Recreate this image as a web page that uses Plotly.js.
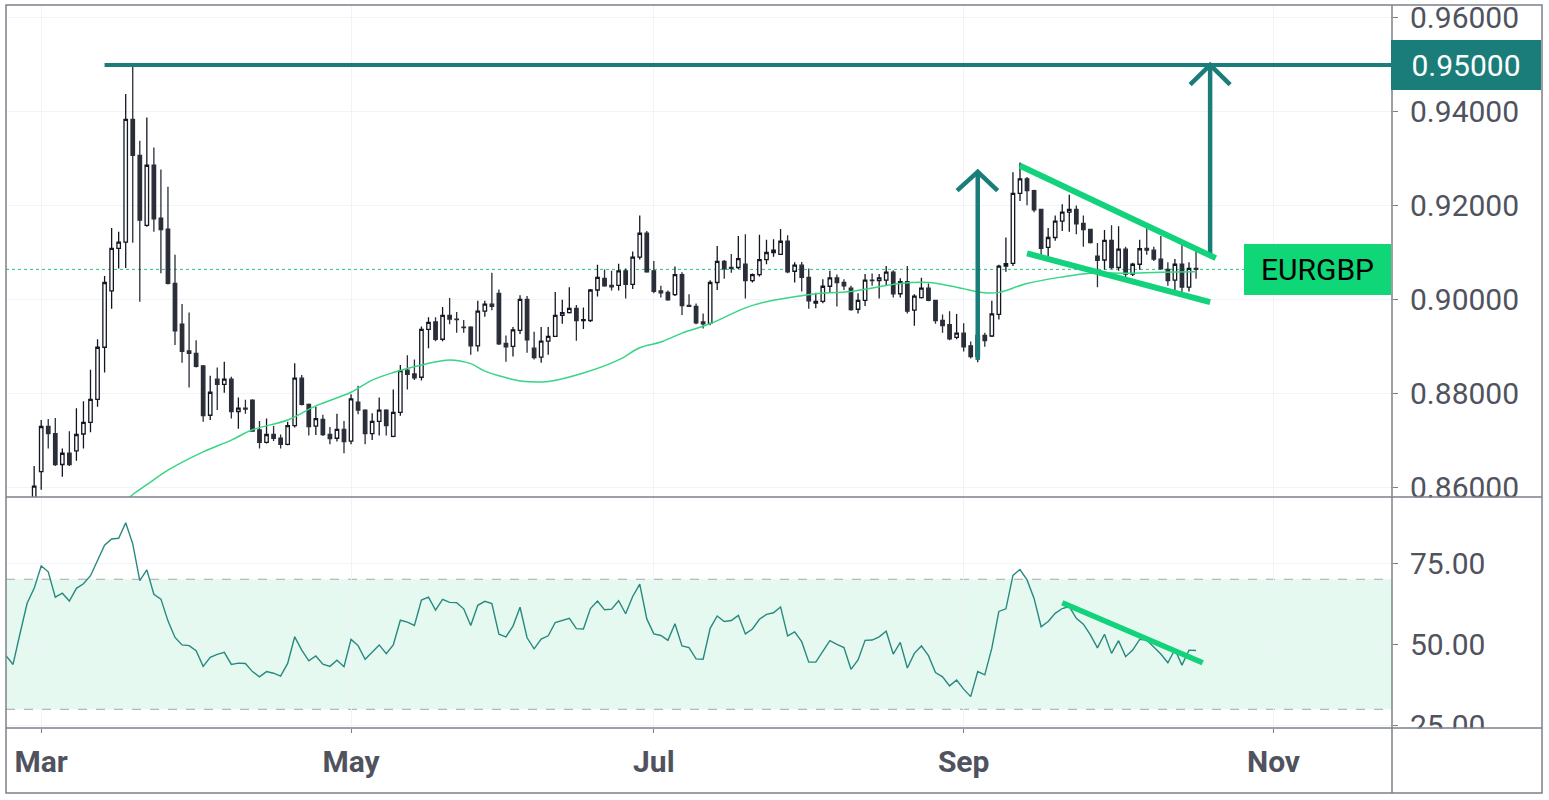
<!DOCTYPE html>
<html><head><meta charset="utf-8">
<script src="https://cdn.plot.ly/plotly-3.0.1.min.js"></script>
<style>html,body{margin:0;padding:0;background:#fff;}#chart{width:1549px;height:800px;}</style>
</head><body><div id="chart"></div>
<script>
// ---- daily candles EURGBP (2020) ----
const dates = ['2020-02-28',
'2020-03-02','2020-03-03','2020-03-04','2020-03-05','2020-03-06','2020-03-09','2020-03-10','2020-03-11','2020-03-12','2020-03-13','2020-03-16','2020-03-17','2020-03-18','2020-03-19','2020-03-20','2020-03-23','2020-03-24','2020-03-25','2020-03-26','2020-03-27','2020-03-30','2020-03-31',
'2020-04-01','2020-04-02','2020-04-03','2020-04-06','2020-04-07','2020-04-08','2020-04-09','2020-04-10','2020-04-13','2020-04-14','2020-04-15','2020-04-16','2020-04-17','2020-04-20','2020-04-21','2020-04-22','2020-04-23','2020-04-24','2020-04-27','2020-04-28','2020-04-29','2020-04-30',
'2020-05-01','2020-05-04','2020-05-05','2020-05-06','2020-05-07','2020-05-08','2020-05-11','2020-05-12','2020-05-13','2020-05-14','2020-05-15','2020-05-18','2020-05-19','2020-05-20','2020-05-21','2020-05-22','2020-05-25','2020-05-26','2020-05-27','2020-05-28','2020-05-29',
'2020-06-01','2020-06-02','2020-06-03','2020-06-04','2020-06-05','2020-06-08','2020-06-09','2020-06-10','2020-06-11','2020-06-12','2020-06-15','2020-06-16','2020-06-17','2020-06-18','2020-06-19','2020-06-22','2020-06-23','2020-06-24','2020-06-25','2020-06-26','2020-06-29','2020-06-30',
'2020-07-01','2020-07-02','2020-07-03','2020-07-06','2020-07-07','2020-07-08','2020-07-09','2020-07-10','2020-07-13','2020-07-14','2020-07-15','2020-07-16','2020-07-17','2020-07-20','2020-07-21','2020-07-22','2020-07-23','2020-07-24','2020-07-27','2020-07-28','2020-07-29','2020-07-30','2020-07-31',
'2020-08-03','2020-08-04','2020-08-05','2020-08-06','2020-08-07','2020-08-10','2020-08-11','2020-08-12','2020-08-13','2020-08-14','2020-08-17','2020-08-18','2020-08-19','2020-08-20','2020-08-21','2020-08-24','2020-08-25','2020-08-26','2020-08-27','2020-08-28','2020-08-31',
'2020-09-01','2020-09-02','2020-09-03','2020-09-04','2020-09-07','2020-09-08','2020-09-09','2020-09-10','2020-09-11','2020-09-14','2020-09-15','2020-09-16','2020-09-17','2020-09-18','2020-09-21','2020-09-22','2020-09-23','2020-09-24','2020-09-25','2020-09-28','2020-09-29','2020-09-30',
'2020-10-01','2020-10-02','2020-10-05','2020-10-06','2020-10-07','2020-10-08','2020-10-09','2020-10-12','2020-10-13','2020-10-14','2020-10-15','2020-10-16'];

const open = [0.8530,
0.8633,0.8729,0.8714,0.8648,0.8672,0.8677,0.8713,0.8738,0.8787,0.8898,0.9018,0.9109,0.9122,0.9384,0.9307,0.9158,0.9286,0.9173,0.9150,0.9034,0.8947,0.8890,
0.8885,0.8858,0.8753,0.8830,0.8819,0.8830,0.8761,0.8768,0.8785,0.8722,0.8695,0.8712,0.8704,0.8691,0.8731,0.8832,0.8776,0.8730,0.8744,0.8712,0.8704,0.8723,
0.8698,0.8781,0.8764,0.8714,0.8740,0.8764,0.8708,0.8759,0.8849,0.8841,0.8834,0.8936,0.8952,0.8915,0.8966,0.8958,0.8941,0.8941,0.8901,0.8975,0.8990,
0.9013,0.8906,0.8900,0.8934,0.9000,0.8896,0.8877,0.8911,0.8921,0.8966,0.8972,0.8981,0.8955,0.8955,0.9020,0.9045,0.9030,0.9030,0.9061,0.9032,0.9090,0.9141,
0.9061,0.9018,0.9015,0.9010,0.9053,0.8987,0.8985,0.8952,0.8949,0.9036,0.9081,0.9068,0.9068,0.9075,0.9040,0.9053,0.9085,0.9100,0.9096,0.9124,0.9060,0.9073,0.9047,
0.8992,0.8996,0.9028,0.9046,0.9036,0.9024,0.8979,0.8998,0.9041,0.9040,0.9041,0.9058,0.9012,0.9038,0.8977,0.9004,0.9024,0.8998,0.8955,0.8946,0.8919,
0.8928,0.8901,0.8878,0.8923,0.8922,0.8968,0.9071,0.9077,0.9226,0.9257,0.9232,0.9192,0.9111,0.9132,0.9167,0.9186,0.9192,0.9162,0.9149,0.9092,0.9084,0.9126,
0.9068,0.9107,0.9054,0.9075,0.9109,0.9105,0.9086,0.9064,0.9041,0.9075,0.9026,0.9066];

const high = [0.8645,
0.8743,0.8745,0.8747,0.8682,0.8719,0.8768,0.8783,0.8850,0.8915,0.9050,0.9152,0.9144,0.9438,0.9500,0.9338,0.9388,0.9324,0.9277,0.9240,0.9095,0.8990,0.8972,
0.8913,0.8860,0.8837,0.8855,0.8867,0.8835,0.8791,0.8786,0.8787,0.8741,0.8746,0.8730,0.8712,0.8739,0.8864,0.8839,0.8778,0.8771,0.8754,0.8728,0.8756,0.8741,
0.8798,0.8816,0.8766,0.8757,0.8791,0.8766,0.8808,0.8860,0.8881,0.8872,0.8942,0.8962,0.8962,0.8984,0.9003,0.8973,0.8956,0.8943,0.8997,0.8997,0.9057,
0.9021,0.8923,0.8941,0.9009,0.9007,0.8931,0.8941,0.8941,0.9016,0.8999,0.9026,0.8988,0.8983,0.9022,0.9074,0.9064,0.9061,0.9076,0.9066,0.9102,0.9179,0.9146,
0.9082,0.9029,0.9019,0.9070,0.9058,0.9011,0.8991,0.8970,0.9041,0.9114,0.9084,0.9097,0.9135,0.9139,0.9055,0.9138,0.9127,0.9128,0.9150,0.9137,0.9079,0.9080,0.9066,
0.9014,0.9043,0.9061,0.9053,0.9043,0.9029,0.9013,0.9054,0.9055,0.9054,0.9071,0.9062,0.9045,0.9071,0.9011,0.9046,0.9034,0.8999,0.8968,0.8975,0.8969,
0.8949,0.8910,0.8937,0.8929,0.8997,0.9074,0.9132,0.9271,0.9292,0.9261,0.9234,0.9193,0.9152,0.9179,0.9203,0.9223,0.9200,0.9179,0.9150,0.9120,0.9148,0.9158,
0.9156,0.9112,0.9078,0.9127,0.9162,0.9112,0.9135,0.9079,0.9086,0.9122,0.9079,0.9113];

const low = [0.8510,
0.8594,0.8682,0.8645,0.8622,0.8645,0.8656,0.8682,0.8717,0.8771,0.8844,0.8980,0.9066,0.9067,0.9121,0.8995,0.9155,0.9144,0.9056,0.9032,0.8903,0.8865,0.8812,
0.8855,0.8739,0.8743,0.8764,0.8801,0.8746,0.8724,0.8756,0.8718,0.8682,0.8693,0.8698,0.8682,0.8689,0.8727,0.8774,0.8710,0.8711,0.8709,0.8691,0.8697,0.8672,
0.8691,0.8755,0.8691,0.8700,0.8710,0.8710,0.8706,0.8752,0.8808,0.8828,0.8827,0.8896,0.8911,0.8911,0.8947,0.8929,0.8929,0.8882,0.8889,0.8963,0.8977,
0.8903,0.8867,0.8878,0.8926,0.8886,0.8872,0.8865,0.8882,0.8920,0.8948,0.8970,0.8912,0.8937,0.8952,0.9006,0.9027,0.9019,0.9019,0.9002,0.9022,0.9085,0.9057,
0.9013,0.9004,0.8997,0.9007,0.8967,0.8984,0.8947,0.8938,0.8945,0.9020,0.9044,0.9057,0.9065,0.9002,0.9036,0.9049,0.9075,0.9091,0.9095,0.9056,0.9036,0.9017,0.8980,
0.8981,0.8992,0.9014,0.8985,0.9020,0.8976,0.8970,0.8986,0.9029,0.9002,0.9029,0.9004,0.9004,0.8970,0.8944,0.9002,0.8996,0.8948,0.8929,0.8913,0.8915,
0.8889,0.8874,0.8866,0.8899,0.8920,0.8957,0.9059,0.9071,0.9210,0.9201,0.9186,0.9094,0.9084,0.9125,0.9146,0.9144,0.9139,0.9112,0.9119,0.9026,0.9064,0.9065,
0.9061,0.9046,0.9050,0.9063,0.9095,0.9082,0.9063,0.9029,0.9018,0.9008,0.9017,0.9044];

const close = [0.8602,
0.8729,0.8714,0.8648,0.8672,0.8648,0.8712,0.8738,0.8787,0.8898,0.9036,0.9109,0.9122,0.9384,0.9307,0.9169,0.9286,0.9172,0.9149,0.9034,0.8933,0.8889,0.8885,
0.8857,0.8752,0.8802,0.8819,0.8830,0.8761,0.8768,0.8766,0.8719,0.8695,0.8712,0.8704,0.8691,0.8731,0.8832,0.8776,0.8729,0.8746,0.8712,0.8703,0.8723,0.8697,
0.8788,0.8764,0.8714,0.8740,0.8764,0.8731,0.8759,0.8848,0.8840,0.8833,0.8936,0.8951,0.8915,0.8966,0.8958,0.8957,0.8940,0.8901,0.8975,0.8990,0.8985,
0.8905,0.8899,0.8935,0.9000,0.8914,0.8876,0.8911,0.8921,0.8966,0.8972,0.8981,0.8955,0.8957,0.9020,0.9047,0.9029,0.9027,0.9061,0.9032,0.9090,0.9141,0.9059,
0.9017,0.9014,0.8999,0.9053,0.8987,0.8985,0.8950,0.8948,0.9036,0.9081,0.9065,0.9066,0.9087,0.9040,0.9053,0.9085,0.9100,0.9105,0.9124,0.9059,0.9073,0.9047,0.8997,
0.8996,0.9028,0.9046,0.9036,0.9029,0.8978,0.8998,0.9041,0.9040,0.9046,0.9058,0.9012,0.9038,0.8975,0.9007,0.9024,0.8998,0.8955,0.8944,0.8916,0.8928,
0.8899,0.8878,0.8923,0.8912,0.8969,0.9071,0.9076,0.9226,0.9257,0.9232,0.9191,0.9109,0.9132,0.9167,0.9186,0.9192,0.9161,0.9149,0.9121,0.9083,0.9126,0.9068,
0.9107,0.9054,0.9075,0.9108,0.9105,0.9086,0.9065,0.9040,0.9075,0.9026,0.9066,0.9064];

// ---- moving average ----
const maDates = ['2020-03-16','2020-03-19','2020-03-23','2020-03-26','2020-04-02','2020-04-08','2020-04-13','2020-04-20','2020-04-24','2020-05-01','2020-05-06','2020-05-11','2020-05-15','2020-05-21','2020-05-26','2020-05-28','2020-06-02','2020-06-04','2020-06-10','2020-06-17','2020-06-24','2020-06-29','2020-07-02','2020-07-07','2020-07-13','2020-07-20','2020-07-23','2020-07-30','2020-08-03','2020-08-10','2020-08-14','2020-08-19','2020-08-25','2020-08-31','2020-09-04','2020-09-08','2020-09-14','2020-09-21','2020-09-25','2020-10-02','2020-10-09','2020-10-16'];
const maValues = [0.8543,0.8584,0.8605,0.8636,0.8675,0.8700,0.8722,0.8743,0.8773,0.8802,0.8828,0.8844,0.8860,0.8871,0.8863,0.8847,0.8833,0.8826,0.8825,0.8843,0.8871,0.8897,0.8909,0.8928,0.8948,0.8982,0.8995,0.9008,0.9012,0.9017,0.9027,0.9034,0.9036,0.9026,0.9014,0.9015,0.9034,0.9048,0.9056,0.9056,0.9058,0.9059];

// ---- RSI ----
const rsiDates = ['2020-02-24','2020-02-25','2020-02-26','2020-02-27'].concat(dates);
const rsiValues = [46.5,43.8,53.4,62.6,67.2,
74.1,72.3,64.5,65.7,63.3,67.2,68.6,71.1,75.9,80.5,82.4,82.6,87.4,80.9,69.6,72.9,65.4,63.9,57.2,52.1,49.8,49.6,
48.0,43.2,46.0,46.9,47.5,43.8,44.2,44.1,41.6,40.0,41.6,41.1,40.2,44.1,52.3,48.2,44.9,46.4,43.9,43.2,45.1,43.1,
51.5,49.6,45.4,47.7,49.8,47.1,49.8,57.4,56.8,55.8,63.6,64.5,60.5,63.8,62.9,62.8,60.9,55.8,62.0,63.2,62.5,
53.1,52.3,55.6,61.4,52.0,48.6,51.6,52.6,56.7,57.3,58.0,54.8,54.7,61.0,63.3,60.6,60.8,63.4,59.4,64.7,68.5,57.8,
53.2,52.7,51.2,56.3,49.5,49.0,45.5,45.4,54.9,58.7,57.0,57.3,58.9,53.2,54.7,57.7,59.2,59.7,61.5,52.6,53.8,50.8,44.5,
44.5,48.0,51.1,50.0,49.0,42.3,45.2,51.2,51.3,52.3,54.0,47.0,50.6,42.7,47.2,49.5,46.5,41.3,40.0,37.2,39.0,
36.2,33.9,41.6,40.6,48.8,60.1,60.9,71.2,73.0,69.8,64.1,55.4,57.0,59.5,61.0,61.6,58.0,56.2,52.9,48.9,53.1,47.2,
51.1,46.2,48.2,51.5,51.3,49.3,47.0,44.3,48.4,43.6,48.2,48.1];
const rsiUpper = 70, rsiLower = 30;

// ---- axis ticks ----
const monthTicks = ['2020-03-02','2020-05-01','2020-07-01','2020-09-01','2020-11-02'];
const monthLabels = ['Mar','May','Jul','Sep','Nov'];
const priceTicks = [0.86,0.88,0.90,0.92,0.94,0.96];
const rsiTicks = [25,50,75];

// ---- drawings ----
const lastPrice = 0.9064;
const symbol = 'EURGBP';
const targetLevel = 0.95;
const targetDates = ['2020-03-13','2020-11-25'];
const arrow1Dates = ['2020-09-03','2020-09-03'];
const arrow1Values = [0.8871,0.9272];
const arrow1HeadDates = ['2020-08-31 01:30','2020-09-03','2020-09-07 19:40'];
const arrow1HeadValues = [0.9232,0.9272,0.9232];
const arrow2Dates = ['2020-10-20','2020-10-20'];
const arrow2Values = [0.9093,0.9500];
const arrow2HeadDates = ['2020-10-15 03:50','2020-10-20','2020-10-22 20:10'];
const arrow2HeadValues = [0.9458,0.9500,0.9458];
const wedgeUpperDates = ['2020-09-11','2020-10-20 19:12'];
const wedgeUpperValues = [0.9285,0.9088];
const wedgeLowerDates = ['2020-09-14','2020-10-20'];
const wedgeLowerValues = [0.9098,0.8994];
const rsiTrendDates = ['2020-09-21','2020-10-16 22:48'];
const rsiTrendValues = [62.8,44.3];

const TEAL = '#1b7d7a', GREEN = '#12d27b', GRAY = '#50535e', BORDER = '#7d808a', GRID = '#f0f3fa';
const FONT = 'Roboto, "Open Sans", sans-serif';

const traces = [
  {type:'scatter', mode:'lines', x:maDates, y:maValues, xaxis:'x', yaxis:'y',
   line:{color:'#38d584', width:1.5, shape:'spline', smoothing:1}, hoverinfo:'skip'},
  {type:'candlestick', x:dates, open:open, high:high, low:low, close:close, xaxis:'x', yaxis:'y',
   increasing:{line:{color:'#131722', width:1.3}, fillcolor:'#ffffff'},
   decreasing:{line:{color:'#2a2e39', width:1.3}, fillcolor:'#2a2e39'},
   whiskerwidth:0, hoverinfo:'skip'},
  {type:'scatter', mode:'lines', x:targetDates, y:[targetLevel,targetLevel], line:{color:TEAL, width:4}, hoverinfo:'skip'},
  {type:'scatter', mode:'lines', x:arrow1Dates, y:arrow1Values, line:{color:TEAL, width:4.5}, hoverinfo:'skip'},
  {type:'scatter', mode:'lines', x:arrow1HeadDates, y:arrow1HeadValues, line:{color:TEAL, width:4.5}, hoverinfo:'skip'},
  {type:'scatter', mode:'lines', x:arrow2Dates, y:arrow2Values, line:{color:TEAL, width:4.5}, hoverinfo:'skip'},
  {type:'scatter', mode:'lines', x:arrow2HeadDates, y:arrow2HeadValues, line:{color:TEAL, width:4.5}, hoverinfo:'skip'},
  {type:'scatter', mode:'lines', x:wedgeUpperDates, y:wedgeUpperValues, line:{color:GREEN, width:6}, hoverinfo:'skip'},
  {type:'scatter', mode:'lines', x:wedgeLowerDates, y:wedgeLowerValues, line:{color:GREEN, width:6}, hoverinfo:'skip'},
  {type:'scatter', mode:'lines', x:rsiDates, y:rsiValues, xaxis:'x', yaxis:'y2', line:{color:'#28897f', width:1.4}, hoverinfo:'skip'},
  {type:'scatter', mode:'lines', x:rsiTrendDates, y:rsiTrendValues, xaxis:'x', yaxis:'y2', line:{color:GREEN, width:5.5}, hoverinfo:'skip'}
];

// layout geometry (pixels)
const W = 1549, H = 800, L = 6, R = 157, T = 5, B = 72;
const plotW = W - L - R, plotH = H - T - B;
const px = x => (x - L) / plotW;
const py = y => (H - B - y) / plotH;
const split = py(497);

const layout = {
  width:W, height:H, margin:{l:L, r:R, t:T, b:B, pad:0},
  paper_bgcolor:'#ffffff', plot_bgcolor:'#ffffff', showlegend:false, hovermode:false,
  boxgap:0.3,
  xaxis:{type:'date', anchor:'y2', range:['2020-02-24','2020-11-24 19:55'],
    rangebreaks:[{bounds:['sat','mon']}], rangeslider:{visible:false},
    tickmode:'array', tickvals:monthTicks, ticktext:monthLabels,
    ticks:'outside', ticklen:4, tickcolor:BORDER, tickwidth:1,
    showgrid:true, gridcolor:GRID, gridwidth:1, zeroline:false, showline:false,
    tickfont:{family:FONT, size:30, color:GRAY, weight:'bold'}, ticklabelstandoff:3},
  yaxis:{domain:[split,1], anchor:'x', side:'right', range:[0.85787,0.96277],
    tickmode:'array', tickvals:priceTicks, tickformat:'.5f',
    ticks:'outside', ticklen:5, tickcolor:BORDER, tickwidth:1,
    showgrid:true, gridcolor:GRID, gridwidth:1, zeroline:false, showline:false,
    tickfont:{family:FONT, size:30, color:GRAY}, ticklabelstandoff:6},
  yaxis2:{domain:[0,split], anchor:'x', side:'right', range:[24.25,95.3],
    tickmode:'array', tickvals:rsiTicks, tickformat:'.2f',
    ticks:'outside', ticklen:5, tickcolor:BORDER, tickwidth:1,
    showgrid:true, gridcolor:GRID, gridwidth:1, zeroline:false, showline:false,
    tickfont:{family:FONT, size:30, color:GRAY}, ticklabelstandoff:6},
  shapes:[
    {type:'rect', layer:'between', xref:'paper', yref:'y2', x0:0, x1:1, y0:rsiLower, y1:rsiUpper,
     fillcolor:'#e5f9f0', line:{width:0}},
    {type:'line', layer:'between', xref:'paper', yref:'y2', x0:0, x1:1, y0:rsiUpper, y1:rsiUpper,
     line:{color:'#a6a8ad', width:1, dash:'dash'}},
    {type:'line', layer:'between', xref:'paper', yref:'y2', x0:0, x1:1, y0:rsiLower, y1:rsiLower,
     line:{color:'#a6a8ad', width:1, dash:'dash'}},
    {type:'line', layer:'between', xref:'paper', yref:'y', x0:0, x1:px(1244), y0:lastPrice, y1:lastPrice,
     line:{color:'#22c47d', width:1, dash:'dot'}},
    // clip label overflow in the right price column
    {type:'rect', layer:'above', xref:'paper', yref:'paper', x0:px(1393), x1:px(1541), y0:py(505), y1:py(497.5),
     fillcolor:'#ffffff', line:{width:0}},
    {type:'rect', layer:'above', xref:'paper', yref:'paper', x0:px(1393), x1:px(1541), y0:py(792), y1:py(728.5),
     fillcolor:'#ffffff', line:{width:0}},
    // frame
    {type:'rect', layer:'above', xref:'paper', yref:'paper', x0:0, x1:px(1542), y0:py(793), y1:1,
     line:{color:BORDER, width:1.5}},
    {type:'line', layer:'above', xref:'paper', yref:'paper', x0:0, x1:px(1542), y0:split, y1:split,
     line:{color:BORDER, width:1.5}},
    {type:'line', layer:'above', xref:'paper', yref:'paper', x0:0, x1:px(1542), y0:0, y1:0,
     line:{color:BORDER, width:1.5}},
    {type:'line', layer:'above', xref:'paper', yref:'paper', x0:1, x1:1, y0:py(793), y1:1,
     line:{color:BORDER, width:1.5}}
  ],
  annotations:[
    {xref:'paper', yref:'y', x:px(1317.5), y:lastPrice, text:symbol, showarrow:false,
     xanchor:'center', yanchor:'middle', bgcolor:'#0fd677', borderpad:0, borderwidth:0,
     width:147, height:51, font:{family:FONT, size:30, color:'#000000'}},
    {xref:'paper', yref:'y', x:px(1466), y:targetLevel, text:targetLevel.toFixed(5), showarrow:false,
     xanchor:'center', yanchor:'middle', bgcolor:TEAL, borderpad:0, borderwidth:0,
     width:150, height:50, font:{family:FONT, size:30, color:'#ffffff'}}
  ]
};

Plotly.newPlot('chart', traces, layout, {displayModeBar:false, staticPlot:true});
</script>
</body></html>
